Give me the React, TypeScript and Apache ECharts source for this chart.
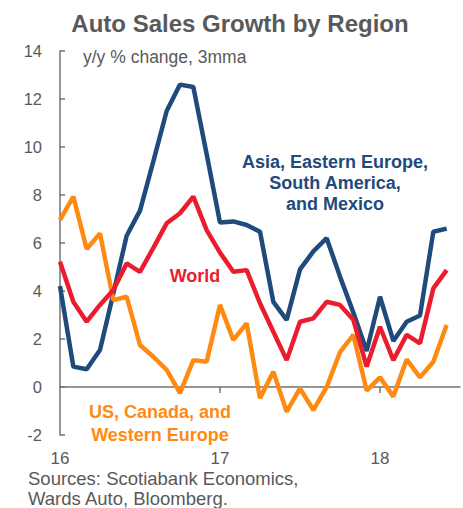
import React, { useEffect, useRef } from "react";
import * as echarts from "echarts";

const months: string[] = [
  "2016-01","2016-02","2016-03","2016-04","2016-05","2016-06","2016-07","2016-08","2016-09","2016-10","2016-11","2016-12",
  "2017-01","2017-02","2017-03","2017-04","2017-05","2017-06","2017-07","2017-08","2017-09","2017-10","2017-11","2017-12",
  "2018-01","2018-02","2018-03","2018-04","2018-05","2018-06",
];

const asiaEtc: number[] = [
  4.2, 0.85, 0.74, 1.54, 3.9, 6.3, 7.35, 9.4, 11.5, 12.6, 12.5, 9.7,
  6.85, 6.9, 6.75, 6.47, 3.55, 2.8, 4.9, 5.65, 6.2, 4.6, 3.1, 1.5,
  3.76, 1.92, 2.72, 2.98, 6.47, 6.6,
];

const world: number[] = [
  5.22, 3.55, 2.72, 3.42, 4.04, 5.15, 4.8, 5.8, 6.82, 7.24, 7.93, 6.54,
  5.6, 4.8, 4.87, 3.49, 2.3, 1.12, 2.72, 2.86, 3.55, 3.42, 2.8, 0.85,
  2.51, 1.12, 2.17, 1.82, 4.11, 4.87,
];

const usCanWe: number[] = [
  6.96, 7.93, 5.75, 6.4, 3.62, 3.76, 1.75, 1.26, 0.71, -0.26, 1.12, 1.05,
  3.42, 1.96, 2.65, -0.47, 0.64, -1.03, -0.06, -0.96, 0.0, 1.45, 2.17, -0.15,
  0.4, -0.4, 1.15, 0.4, 1.05, 2.58,
];

const yearTickIdx: number[] = [0, 12, 24];
const yearTickLabels: string[] = ["16", "17", "18"];

const FONT = "'Liberation Sans', Arial, sans-serif";
const GREY = "#595959";
const AXIS = "#737373";
const BLUE = "#1F4A7C";
const RED = "#EB1C2E";
const ORANGE = "#FF8A12";

export default function App() {
  const ref = useRef<HTMLDivElement>(null);
  useEffect(() => {
    if (!ref.current) return;
    const chart = echarts.init(ref.current, undefined, { renderer: "svg" });
    const toPairs = (arr: number[]) => arr.map((v, i) => [i, v]);
    const xLabel = (v: number) => {
      const k = yearTickIdx.indexOf(v);
      return k >= 0 ? yearTickLabels[k] : "";
    };
    chart.setOption({
      animation: false,
      textStyle: { fontFamily: FONT },
      grid: { left: 60, right: 3, top: 51, bottom: 73, containLabel: false },
      xAxis: [
        {
          type: "value",
          min: 0,
          max: months.length,
          interval: 12,
          position: "bottom",
          axisLine: { show: false, onZero: false },
          axisTick: { show: false },
          splitLine: { show: false },
          axisLabel: {
            show: true,
            margin: 15,
            color: GREY,
            fontSize: 17,
            fontFamily: FONT,
            customValues: yearTickIdx,
            formatter: xLabel,
          },
        },
        {
          type: "value",
          min: 0,
          max: months.length,
          interval: 12,
          position: "bottom",
          axisLine: { show: true, onZero: true, lineStyle: { color: AXIS, width: 1.5 } },
          axisTick: {
            show: true,
            inside: false,
            length: 6,
            customValues: [12, 24],
            lineStyle: { color: AXIS, width: 1.5 },
          },
          axisLabel: { show: false },
          splitLine: { show: false },
        },
      ],
      yAxis: {
        type: "value",
        min: -2,
        max: 14,
        interval: 2,
        axisLine: { show: true, onZero: false, lineStyle: { color: AXIS, width: 1.5 } },
        axisTick: { show: true, inside: true, length: 5, lineStyle: { color: AXIS, width: 1.5 } },
        splitLine: { show: false },
        axisLabel: { color: GREY, fontSize: 16.5, margin: 18, fontFamily: FONT },
      },
      series: [
        {
          type: "line",
          name: "Asia, Eastern Europe, South America, and Mexico",
          data: toPairs(asiaEtc),
          showSymbol: false,
          symbol: "none",
          lineStyle: { color: BLUE, width: 4.5 },
          z: 2,
        },
        {
          type: "line",
          name: "US, Canada, and Western Europe",
          data: toPairs(usCanWe),
          showSymbol: false,
          symbol: "none",
          lineStyle: { color: ORANGE, width: 4.5 },
          z: 3,
        },
        {
          type: "line",
          name: "World",
          data: toPairs(world),
          showSymbol: false,
          symbol: "none",
          lineStyle: { color: RED, width: 4.5 },
          z: 4,
        },
      ],
      graphic: [
        {
          type: "text",
          style: {
            text: "Auto Sales Growth by Region",
            x: 240,
            y: 23,
            align: "center",
            verticalAlign: "middle",
            fill: GREY,
            font: `bold 24px ${FONT}`,
          },
        },
        {
          type: "text",
          style: {
            text: "y/y % change, 3mma",
            x: 83,
            y: 57,
            align: "left",
            verticalAlign: "middle",
            fill: GREY,
            font: `17.5px ${FONT}`,
          },
        },
        {
          type: "text",
          style: {
            text: "Asia, Eastern Europe,\nSouth America,\nand Mexico",
            x: 335,
            y: 183,
            align: "center",
            verticalAlign: "middle",
            lineHeight: 21,
            fill: BLUE,
            font: `bold 18px ${FONT}`,
          },
        },
        {
          type: "text",
          style: {
            text: "World",
            x: 195,
            y: 276,
            align: "center",
            verticalAlign: "middle",
            fill: RED,
            font: `bold 18px ${FONT}`,
          },
        },
        {
          type: "text",
          style: {
            text: "US, Canada, and\nWestern Europe",
            x: 160,
            y: 423,
            align: "center",
            verticalAlign: "middle",
            lineHeight: 23,
            fill: ORANGE,
            font: `bold 18px ${FONT}`,
          },
        },
        {
          type: "text",
          style: {
            text: "Sources: Scotiabank Economics,\nWards Auto, Bloomberg.",
            x: 28,
            y: 488,
            align: "left",
            verticalAlign: "middle",
            lineHeight: 20,
            fill: GREY,
            font: `18.5px ${FONT}`,
          },
        },
      ],
    });
    return () => chart.dispose();
  }, []);
  return (
    <div
      ref={ref}
      style={{ position: "absolute", left: 0, top: 0, width: 463, height: 508, background: "#fff" }}
    />
  );
}
